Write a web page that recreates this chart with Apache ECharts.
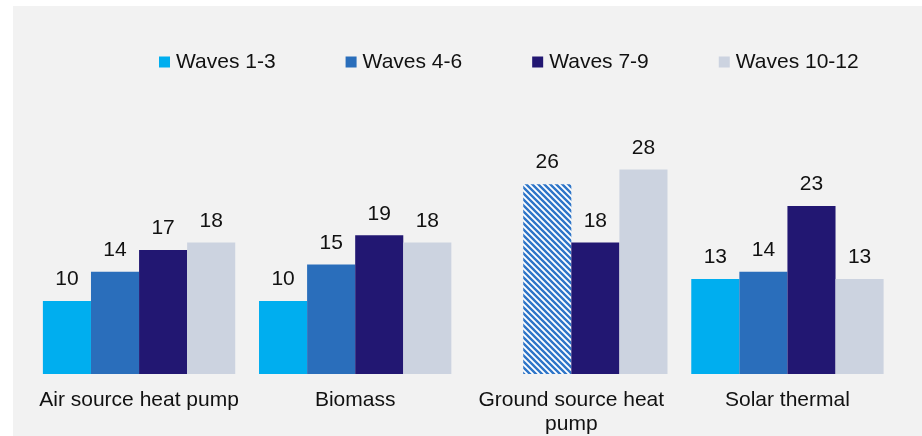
<!DOCTYPE html>
<html>
<head>
<meta charset="utf-8">
<script src="https://cdn.jsdelivr.net/npm/echarts@6/dist/echarts.min.js"></script>
<style>
  html, body { margin: 0; padding: 0; background: #ffffff; width: 922px; height: 436px; overflow: hidden; }
  #panel { position: absolute; left: 13px; top: 6px; right: 0; bottom: 0; background: #f2f2f2; }
  #chart { position: absolute; left: 0; top: 0; width: 922px; height: 436px; }
</style>
</head>
<body>
<div id="panel"></div>
<div id="chart"></div>
<script>
// Share of respondents aware of each technology, by survey wave
const categories = ['Air source heat pump', 'Biomass', 'Ground source heat\npump', 'Solar thermal'];
const waveNames = ['Waves 1-3', 'Waves 4-6', 'Waves 7-9', 'Waves 10-12'];
const waves1to3 = [10, 10, null, 13];
const waves4to6 = [14, 15, 26, 14];
const waves7to9 = [17, 19, 18, 23];
const waves10to12 = [18, 18, 28, 13];
// Low base size: this point is shown hatched
const lowBase = { series: 1, category: 2 };

const colors = ['#00aeef', '#2a6ebb', '#221772', '#ccd3e0'];
const values = [waves1to3, waves4to6, waves7to9, waves10to12];

// Diagonal stripe fill for low-base bars
function stripePattern() {
  const s = 6;
  const c = document.createElement('canvas');
  c.width = s; c.height = s;
  const g = c.getContext('2d');
  g.fillStyle = '#ffffff';
  g.fillRect(0, 0, s, s);
  g.strokeStyle = '#2e75c8';
  g.lineWidth = 2.4;
  g.beginPath();
  g.moveTo(-1, -1); g.lineTo(s + 1, s + 1);
  g.moveTo(-1, s - 1); g.lineTo(1, s + 1);
  g.moveTo(s - 1, -1); g.lineTo(s + 1, 1);
  g.stroke();
  return { image: c, repeat: 'repeat' };
}

const font = 'Liberation Sans, Arial, sans-serif';

const series = waveNames.map((name, i) => ({
  name: name,
  type: 'bar',
  barGap: '0%',
  barCategoryGap: '11%',
  itemStyle: { color: colors[i] },
  label: {
    show: true,
    position: 'top',
    distance: 11,
    color: '#111111',
    fontSize: 21,
    fontFamily: font
  },
  data: values[i].map((v, j) => {
    if (v === null) return '-';
    if (i === lowBase.series && j === lowBase.category) {
      return { value: v, itemStyle: { color: stripePattern() } };
    }
    return v;
  })
}));

const chart = echarts.init(document.getElementById('chart'), null, { renderer: 'canvas' });
chart.setOption({
  backgroundColor: 'transparent',
  animation: false,
  legend: {
    data: waveNames.map((n, i) => ({ name: n, itemStyle: { color: colors[i] } })),
    left: 154,
    top: 46,
    itemWidth: 11,
    itemHeight: 11,
    itemGap: 70,
    icon: 'rect',
    textStyle: { fontSize: 21, fontFamily: font, color: '#111111', lineHeight: 22, padding: [0, 0, 0, 1] }
  },
  grid: { left: 31, width: 864.5, top: 155, bottom: 62, containLabel: false },
  xAxis: {
    type: 'category',
    data: categories,
    axisLine: { show: false },
    axisTick: { show: false },
    axisLabel: {
      interval: 0,
      margin: 14,
      fontSize: 21,
      lineHeight: 24,
      fontFamily: font,
      color: '#111111'
    }
  },
  yAxis: {
    type: 'value',
    min: 0,
    max: 30,
    show: false,
    splitLine: { show: false }
  },
  series: series
});
</script>
</body>
</html>
